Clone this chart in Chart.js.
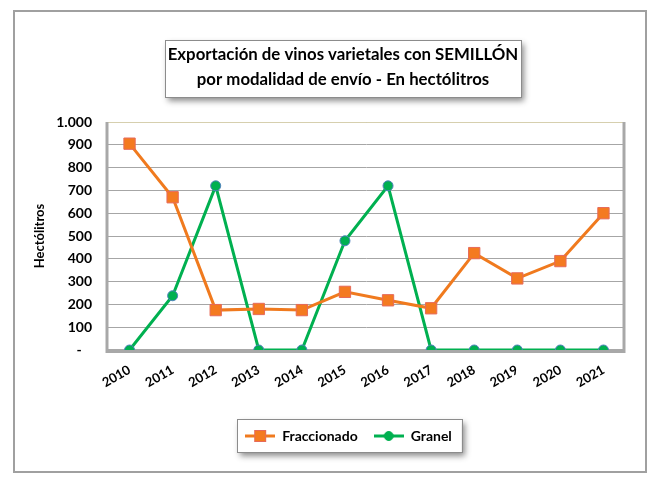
<!DOCTYPE html>
<html>
<head>
<meta charset="utf-8">
<script src="https://cdn.jsdelivr.net/npm/chart.js@4.4.1/dist/chart.umd.min.js"></script>
<style>
html,body{margin:0;padding:0;background:#fff;}
#wrap{width:651px;height:478px;position:relative;}
</style>
</head>
<body>
<div id="wrap"><canvas id="c" width="651" height="478"></canvas></div>
<script>
const years = ['2010','2011','2012','2013','2014','2015','2016','2017','2018','2019','2020','2021'];
const fraccionado = [905, 670, 175, 180, 175, 255, 218, 183, 425, 314, 390, 600];
const granel = [0, 238, 720, 0, 0, 479, 720, 0, 0, 0, 0, 0];
const titleLines = ['Exportación de vinos varietales con SEMILLÓN', 'por modalidad de envío - En hectólitros'];
const yTitle = 'Hectólitros';
const seriesNames = ['Fraccionado', 'Granel'];

const ORANGE = '#F07A1E';
const ORANGE_FILL = '#F47A20';
const ORANGE_BORDER = '#E66A5A';
const GREEN = '#00B050';
const GREEN_BORDER = '#4F81BD';
const FONT = 'Lato, "Open Sans", sans-serif';

function legendIcon(kind) {
  const cv = document.createElement('canvas');
  cv.width = 30; cv.height = 14;
  const g = cv.getContext('2d');
  g.lineWidth = 3;
  g.strokeStyle = kind === 'sq' ? ORANGE : GREEN;
  g.beginPath(); g.moveTo(0, 7); g.lineTo(30, 7); g.stroke();
  if (kind === 'sq') {
    g.fillStyle = ORANGE_FILL; g.strokeStyle = ORANGE_BORDER; g.lineWidth = 1;
    g.fillRect(9.5, 1.5, 11, 11); g.strokeRect(9.5, 1.5, 11, 11);
  } else {
    g.fillStyle = GREEN; g.strokeStyle = GREEN;
    g.lineWidth = 1;
    g.beginPath(); g.arc(15, 7, 4.5, 0, Math.PI * 2); g.fill(); g.stroke();
  }
  return cv;
}
const icons = [legendIcon('sq'), legendIcon('dot')];

function fmt(v) {
  if (v === 0) return '-   ';
  const s = String(v);
  return s.length > 3 ? s.slice(0, s.length - 3) + '.' + s.slice(-3) : s;
}

const framePlugin = {
  id: 'frame',
  afterLayout(chart) {
    const lg = chart.legend;
    if (lg) { lg.left += 29; lg.right += 29; }
  },
  beforeDraw(chart) {
    const ctx = chart.ctx;
    ctx.save();
    ctx.fillStyle = '#fff';
    ctx.fillRect(0, 0, chart.width, chart.height);
    // outer border
    ctx.strokeStyle = '#a0a0a0';
    ctx.lineWidth = 2;
    ctx.strokeRect(14, 11, 632, 461);
    // title box
    ctx.shadowColor = 'rgba(0,0,0,0.45)';
    ctx.shadowBlur = 6; ctx.shadowOffsetX = 3; ctx.shadowOffsetY = 4;
    ctx.fillStyle = '#fff';
    ctx.fillRect(165, 40, 356, 57);
    ctx.shadowColor = 'transparent';
    ctx.strokeStyle = '#8c8c8c'; ctx.lineWidth = 1;
    ctx.strokeRect(165.5, 40.5, 356, 57);
    // title text
    ctx.fillStyle = '#000';
    ctx.font = 'bold 16.8px ' + FONT;
    ctx.textAlign = 'center';
    ctx.textBaseline = 'middle';
    ctx.fillText(titleLines[0], 343, 55);
    ctx.fillText(titleLines[1], 343, 80);
    // legend box
    const lg = chart.legend;
    if (lg && lg.legendHitBoxes && lg.legendHitBoxes.length) {
      const hb = lg.legendHitBoxes;
      const l = Math.min(...hb.map(h => h.left)) - 8;
      const r = Math.max(...hb.map(h => h.left + h.width)) + 10;
      const t = hb[0].top - 10, b = hb[0].top + hb[0].height + 9;
      ctx.shadowColor = 'rgba(0,0,0,0.45)';
      ctx.shadowBlur = 6; ctx.shadowOffsetX = 3; ctx.shadowOffsetY = 4;
      ctx.fillStyle = '#fff';
      ctx.fillRect(l, t, r - l, b - t);
      ctx.shadowColor = 'transparent';
      ctx.strokeStyle = '#8c8c8c';
      ctx.strokeRect(Math.round(l) + 0.5, Math.round(t) + 0.5, Math.round(r - l), Math.round(b - t));
    }
    ctx.restore();
  },
  beforeDatasetsDraw(chart) {
    const ctx = chart.ctx, a = chart.chartArea;
    ctx.save();
    ctx.strokeStyle = '#d6cfae'; ctx.lineWidth = 1;
    ctx.beginPath(); ctx.moveTo(a.left, a.top + 0.5); ctx.lineTo(a.right, a.top + 0.5); ctx.stroke();
    ctx.strokeStyle = '#a8a8a8'; ctx.lineWidth = 3;
    ctx.beginPath(); ctx.moveTo(a.right - 1, a.top); ctx.lineTo(a.right - 1, a.bottom + 3); ctx.stroke();
    ctx.lineWidth = 4;
    ctx.beginPath(); ctx.moveTo(a.left - 2, a.bottom + 1); ctx.lineTo(a.right, a.bottom + 1); ctx.stroke();
    ctx.lineWidth = 3;
    ctx.beginPath(); ctx.moveTo(a.left - 1, a.top); ctx.lineTo(a.left - 1, a.bottom + 3); ctx.stroke();
    ctx.restore();
  }
};

new Chart(document.getElementById('c'), {
  type: 'line',
  data: {
    labels: years,
    datasets: [
      {
        label: seriesNames[0], data: fraccionado,
        borderColor: ORANGE, borderWidth: 3, tension: 0,
        pointStyle: 'rect', pointRadius: 8, pointHoverRadius: 8,
        pointBackgroundColor: ORANGE_FILL, pointBorderColor: ORANGE_BORDER, pointBorderWidth: 1
      },
      {
        label: seriesNames[1], data: granel,
        borderColor: GREEN, borderWidth: 3, tension: 0,
        pointStyle: 'circle', pointRadius: 5, pointHoverRadius: 5,
        pointBackgroundColor: GREEN, pointBorderColor: GREEN_BORDER, pointBorderWidth: 1
      }
    ]
  },
  options: {
    responsive: false,
    animation: false,
    devicePixelRatio: 1,
    layout: { padding: { left: 14, right: 26, top: 122, bottom: 25 } },
    plugins: {
      title: { display: false },
      legend: {
        display: true, position: 'bottom',
        labels: {
          color: '#000', font: { family: FONT, size: 14, weight: 'bold' },
          usePointStyle: true, pointStyleWidth: 30, padding: 16,
          generateLabels(chart) {
            return chart.data.datasets.map((d, i) => ({
              text: d.label, pointStyle: icons[i], fillStyle: 'transparent',
              strokeStyle: 'transparent', lineWidth: 0, datasetIndex: i, hidden: false, fontColor: '#000'
            }));
          }
        }
      },
      tooltip: { enabled: false }
    },
    scales: {
      x: {
        offset: true,
        grid: { display: false, drawTicks: false },
        border: { display: false },
        ticks: {
          color: '#000', font: { family: FONT, size: 13, weight: 'bold' },
          maxRotation: 30, minRotation: 30, padding: 12, autoSkip: false
        },
        afterFit(s) { s.height = 63; }
      },
      y: {
        min: 0, max: 1000,
        grid: { color: '#a6a6a6', lineWidth: 1, drawTicks: false },
        border: { display: false },
        ticks: {
          stepSize: 100, color: '#000', padding: 16,
          font: { family: FONT, size: 14, weight: 'bold' },
          callback: (v) => fmt(v)
        },
        title: {
          display: true, text: yTitle, color: '#000',
          font: { family: FONT, size: 13, weight: 'bold' },
          padding: { top: 18, bottom: 0 }
        },
        afterFit(s) { s.width = 94; }
      }
    }
  },
  plugins: [framePlugin]
});
</script>
</body>
</html>
